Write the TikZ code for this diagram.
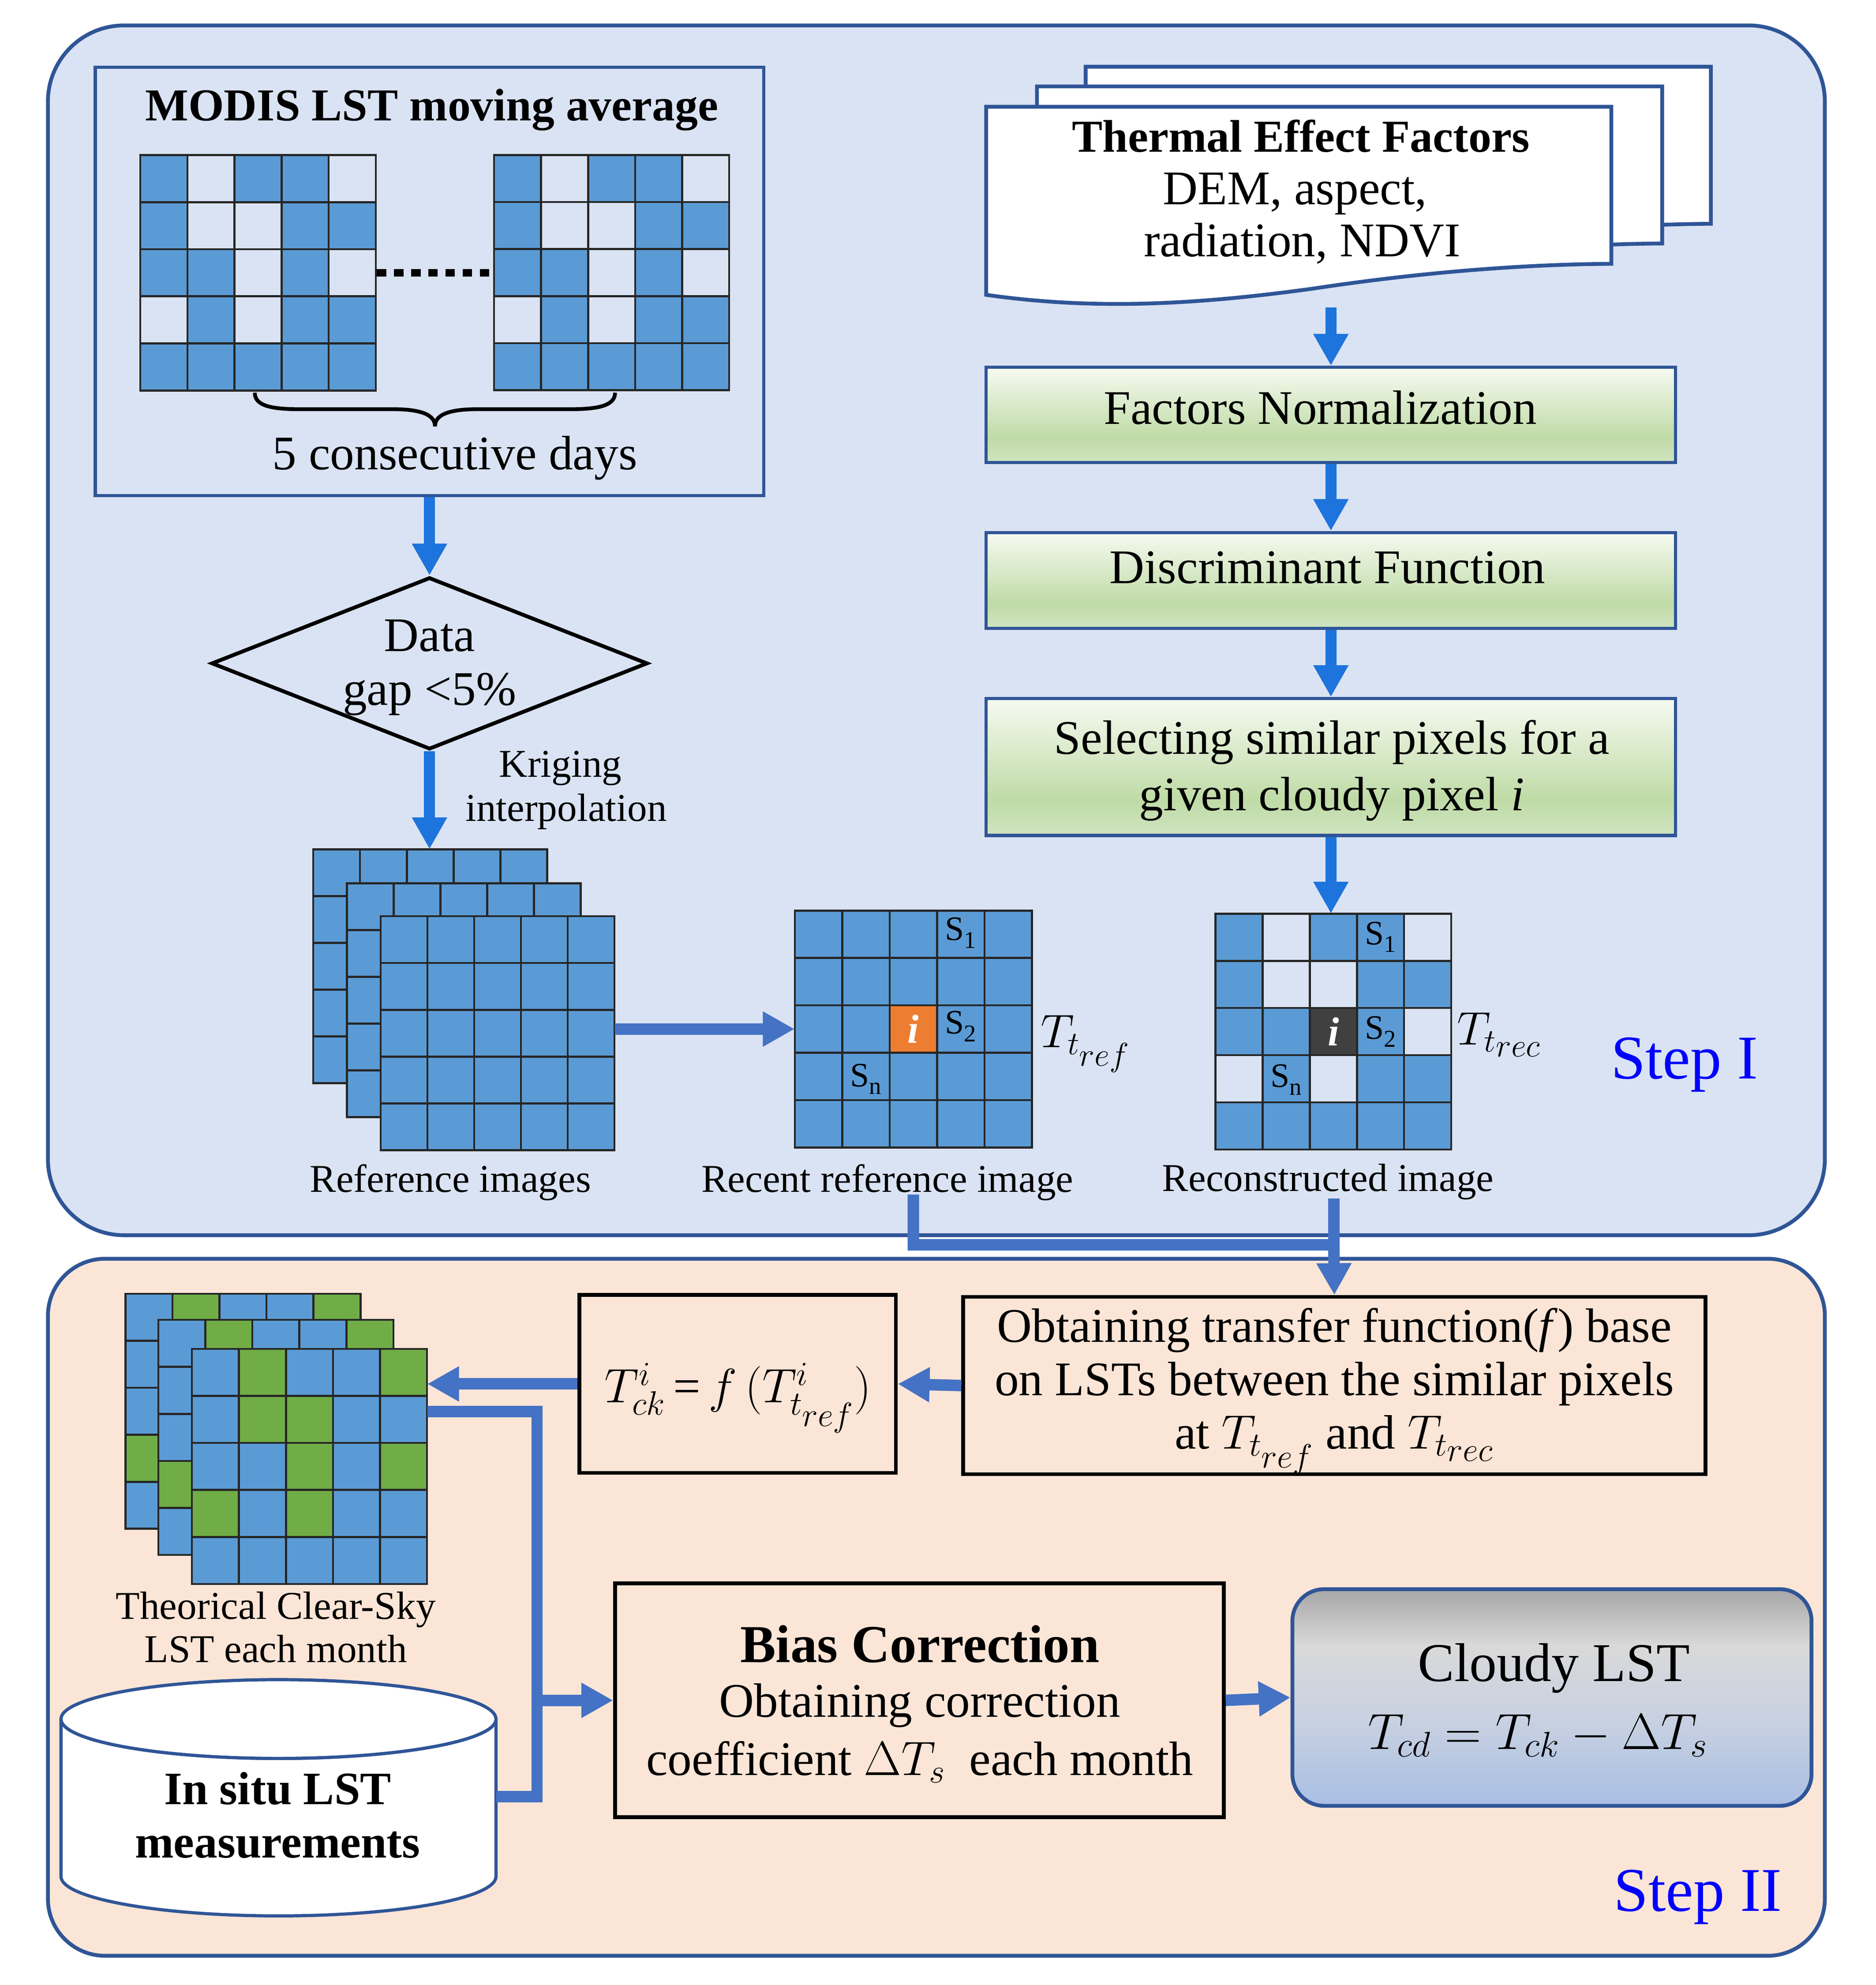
\RequirePackage{fix-cm}
\documentclass[tikz,border=0pt]{standalone}
\usepackage[no-math]{fontspec}
\setmainfont{Liberation Serif}
\usetikzlibrary{arrows.meta,shapes.geometric}

\definecolor{panelA}{HTML}{DAE3F3}
\definecolor{panelB}{HTML}{FBE5D6}
\definecolor{navy}{HTML}{2F5597}
\definecolor{cB}{HTML}{5B9BD5}
\definecolor{cW}{HTML}{DAE3F3}
\definecolor{cG}{HTML}{70AD47}
\definecolor{cO}{HTML}{ED7D31}
\definecolor{cD}{HTML}{404040}
\definecolor{gline}{HTML}{262626}
\definecolor{cbright}{HTML}{1C74DC}
\definecolor{cconn}{HTML}{4472C4}
\definecolor{gA}{HTML}{F6FAF1}
\definecolor{gB}{HTML}{BFDBA6}
\definecolor{gC}{HTML}{D0E4C1}
\definecolor{kA}{HTML}{A6A6A6}
\definecolor{kB}{HTML}{D9D9D9}
\definecolor{kC}{HTML}{C8D1E1}
\definecolor{kD}{HTML}{A9BFE4}

\pgfdeclareverticalshading{greenshade}{100bp}{color(0bp)=(gC); color(25bp)=(gC); color(38bp)=(gB); color(75bp)=(gA); color(100bp)=(gA)}
\pgfdeclareverticalshading{cloudshade}{100bp}{color(0bp)=(kD); color(25bp)=(kD); color(45bp)=(kC); color(62bp)=(kB); color(75bp)=(kA); color(100bp)=(kA)}

\newcommand{\fmain}{\fontsize{38}{46}\selectfont}
\newcommand{\fbold}{\fontsize{36}{44}\selectfont\bfseries}
\newcommand{\flabel}{\fontsize{31}{37}\selectfont}
\newcommand{\fSlab}{\fontsize{27}{32}\selectfont}
\newcommand{\fstep}{\fontsize{49}{58}\selectfont}
\newcommand{\Ssub}[1]{S\raisebox{-6pt}{\fontsize{19}{19}\selectfont #1}}

\newcommand{\cellgrid}[4]{%
  \foreach \rowcols [count=\gi from 0] in {#4} {%
    \foreach \cellcol [count=\gj from 0] in \rowcols {%
      \fill[\cellcol] ({#1+\gj*#3},{#2+\gi*#3}) rectangle ++(#3,#3);
    }
  }
  \foreach \gk in {0,...,5} {%
    \draw[gridline] ({#1+\gk*#3},#2) -- ++(0,{5*#3});
    \draw[gridline] (#1,{#2+\gk*#3}) -- ++({5*#3},0);
  }
}

\tikzset{
  gridline/.style={draw=gline, line width=1.6, line cap=rect},
  navybox/.style={draw=navy, line width=2.5, inner sep=0},
  blackbox/.style={draw=black, line width=3, inner sep=0},
  greenbox/.style={draw=navy, line width=2.5, inner sep=0, shade, shading=greenshade},
  txt/.style={inner sep=0, anchor=base},
  brightarrow/.style={draw=cbright, line width=8.6, -{Triangle[length=25pt,width=26pt]}},
  connline/.style={draw=cconn, line width=9, line join=miter},
  connarrow/.style={connline, -{Triangle[length=25pt,width=26pt]}},
  gridnode/.style={inner sep=0, draw=none, minimum width=#1, minimum height=#1},
  docstyle/.style={draw=navy, fill=white, line width=3, line join=miter},
}

\begin{document}
\begin{tikzpicture}[x=1pt, y=-1pt]
\useasboundingbox (0,0) rectangle (1476,1562);
\fill[white] (0,0) rectangle (1476,1562);

% ---------- panels ----------
\node[draw=navy, fill=panelA, line width=3, rounded corners=60, minimum width=1398.3, minimum height=952, inner sep=0] (stepone) at (736.85,496) {};
\node[draw=navy, fill=panelB, line width=3, rounded corners=45, minimum width=1398.3, minimum height=548.5, inner sep=0] (steptwo) at (736.85,1264.75) {};

% ---------- MODIS box ----------
\node[navybox, minimum width=526, minimum height=337] (modis) at (338,221.5) {};
\node[txt, font=\fbold] (modistitle) at (339.8,95) {MODIS LST moving average};
\cellgrid{110.4}{122}{37.06}{{cB,cW,cB,cB,cW},{cB,cW,cW,cB,cB},{cB,cB,cW,cB,cW},{cW,cB,cW,cB,cB},{cB,cB,cB,cB,cB}}
\cellgrid{388.8}{122}{37.0}{{cB,cW,cB,cB,cW},{cB,cW,cW,cB,cB},{cB,cB,cW,cB,cW},{cW,cB,cW,cB,cB},{cB,cB,cB,cB,cB}}
\draw[line width=6, dash pattern=on 7.5pt off 6pt] (296.5,214.7) -- (388.8,214.7);
\draw[line width=3] (200.5,309) .. controls (200.5,318) and (210,322) .. (235,322) -- (309,322) .. controls (333,322) and (342.3,327) .. (342.3,335.5) .. controls (342.3,327) and (351.6,322) .. (375.6,322) -- (449.5,322) .. controls (474,322) and (484,318) .. (484,309);
\node[txt, font=\fmain] (days) at (358,369.4) {5 consecutive days};

% ---------- diamond ----------
\node[draw=black, line width=3, diamond, minimum width=343.3, minimum height=135.4, inner sep=0] (dgap) at (338,522) {};
\node[txt, font=\fmain] (dtxta) at (338,512.6) {Data};
\node[txt, font=\fmain] (dtxtb) at (338,555) {gap <5\%};
\node[txt, font=\flabel] (kriga) at (441,611.3) {Kriging};
\node[txt, font=\flabel] (krigb) at (445.5,646) {interpolation};

% ---------- reference images ----------
\cellgrid{246.5}{668.4}{36.8}{{cB,cB,cB,cB,cB},{cB,cB,cB,cB,cB},{cB,cB,cB,cB,cB},{cB,cB,cB,cB,cB},{cB,cB,cB,cB,cB}}
\cellgrid{273}{695}{36.8}{{cB,cB,cB,cB,cB},{cB,cB,cB,cB,cB},{cB,cB,cB,cB,cB},{cB,cB,cB,cB,cB},{cB,cB,cB,cB,cB}}
\cellgrid{299.5}{721}{36.8}{{cB,cB,cB,cB,cB},{cB,cB,cB,cB,cB},{cB,cB,cB,cB,cB},{cB,cB,cB,cB,cB},{cB,cB,cB,cB,cB}}
\node[gridnode=184] (refB) at (338.5,760.4) {};
\node[gridnode=184] (refF) at (391.5,813) {};
\node[txt, font=\flabel] (lblref) at (354.5,938) {Reference images};

% ---------- recent reference image ----------
\cellgrid{625.5}{716.5}{37.3}{{cB,cB,cB,cB,cB},{cB,cB,cB,cB,cB},{cB,cB,cO,cB,cB},{cB,cB,cB,cB,cB},{cB,cB,cB,cB,cB}}
\node[gridnode=186.5] (recent) at (718.75,809.75) {};
\node[inner sep=0, text=white, font=\fontsize{32}{32}\selectfont\bfseries\itshape] (ione) at (718.75,809.75) {i};
\node[txt, anchor=base west, font=\fSlab] (rsa) at (743.4,740) {\Ssub{1}};
\node[txt, anchor=base west, font=\fSlab] (rsb) at (743.4,813.6) {\Ssub{2}};
\node[txt, anchor=base west, font=\fSlab] (rsn) at (668.8,855) {\Ssub{n}};
\node[txt, anchor=base west, font=\fontsize{37}{44}\selectfont] (tref) at (818.7,824.2) {$T_{t_{\scriptstyle ref}}$};
\node[txt, font=\flabel] (lblrecent) at (698.3,938) {Recent reference image};

% ---------- reconstructed image ----------
\cellgrid{956.5}{719}{37.1}{{cB,cW,cB,cB,cW},{cB,cW,cW,cB,cB},{cB,cB,cD,cB,cW},{cW,cB,cW,cB,cB},{cB,cB,cB,cB,cB}}
\node[gridnode=185.5] (recon) at (1049.25,811.75) {};
\node[inner sep=0, text=white, font=\fontsize{32}{32}\selectfont\bfseries\itshape] (itwo) at (1049.25,811.75) {i};
\node[txt, anchor=base west, font=\fSlab] (csa) at (1073.8,743.4) {\Ssub{1}};
\node[txt, anchor=base west, font=\fSlab] (csb) at (1073.8,817.7) {\Ssub{2}};
\node[txt, anchor=base west, font=\fSlab] (csn) at (999.6,855.6) {\Ssub{n}};
\node[txt, anchor=base west, font=\fontsize{37}{44}\selectfont] (trec) at (1146.5,822) {$T_{t_{\scriptstyle rec}}$};
\node[txt, font=\flabel] (lblrecon) at (1045,937.5) {Reconstructed image};
\node[txt, font=\fstep, text=blue] (steponelbl) at (1325.5,848.7) {Step I};

% ---------- thermal effect factors ----------
\foreach \dx/\dy in {78.3/-31.5, 40/-16, 0/0}
  \draw[docstyle, shift={(\dx,\dy)}] (776,84) -- (1268,84) -- (1268,207.6) .. controls (1200,208) and (1120,214) .. (1034,227) .. controls (940,240) and (860,244) .. (776,232) -- cycle;
\node[txt, font=\fbold] (tefa) at (1023.6,119.5) {Thermal Effect Factors};
\node[txt, font=\fmain] (tefb) at (1019,161) {DEM, aspect,};
\node[txt, font=\fmain] (tefc) at (1024.7,202) {radiation, NDVI};
\coordinate (docbot) at (1047.3,242);

% ---------- green boxes ----------
\node[greenbox, minimum width=542.6, minimum height=75] (fnorm) at (1047.3,326.5) {};
\node[txt, font=\fmain] (fnormt) at (1039,333.6) {Factors Normalization};
\node[greenbox, minimum width=542.6, minimum height=75.4] (discr) at (1047.3,456.7) {};
\node[txt, font=\fmain] (discrt) at (1044.6,459) {Discriminant Function};
\node[greenbox, minimum width=542.6, minimum height=107.7] (select) at (1047.3,603.55) {};
\node[txt, font=\fmain] (selta) at (1048,593.5) {Selecting similar pixels for a};
\node[txt, font=\fmain] (seltb) at (1048,637.9) {given cloudy pixel \textit{i}};

% ---------- step I arrows ----------
\draw[brightarrow] (modis.south) -- (dgap.north);
\draw[brightarrow] (dgap.south) -- (dgap.south |- refB.north);
\draw[brightarrow] (docbot) -- (fnorm.north);
\draw[brightarrow] (fnorm.south) -- (discr.north);
\draw[brightarrow] (discr.south) -- (select.north);
\draw[brightarrow] (select.south) -- (select.south |- recon.north);
\draw[connarrow] (recent.west -| refF.east) -- (recent.west);

% ---------- step II ----------
\cellgrid{98.7}{1018}{37}{{cB,cG,cB,cB,cG},{cB,cG,cG,cB,cB},{cB,cB,cG,cB,cG},{cG,cB,cG,cB,cB},{cB,cB,cB,cB,cB}}
\cellgrid{124.6}{1038.6}{37}{{cB,cG,cB,cB,cG},{cB,cG,cG,cB,cB},{cB,cB,cG,cB,cG},{cG,cB,cG,cB,cB},{cB,cB,cB,cB,cB}}
\cellgrid{151}{1061.4}{37}{{cB,cG,cB,cB,cG},{cB,cG,cG,cB,cB},{cB,cB,cG,cB,cG},{cG,cB,cG,cB,cB},{cB,cB,cB,cB,cB}}
\node[gridnode=185] (tcs) at (243.5,1153.9) {};
\node[txt, font=\flabel] (tcsa) at (217,1274) {Theorical Clear-Sky};
\node[txt, font=\flabel] (tcsb) at (217,1308) {LST each month};

% cylinder
\path[draw=navy, fill=white, line width=2.5] (48,1352.7) -- (48,1476.6) arc[start angle=180, end angle=0, x radius=171.15, y radius=31] -- (390.3,1352.7) arc[start angle=0, end angle=180, x radius=171.15, y radius=31] -- cycle;
\draw[draw=navy, fill=white, line width=2.5] (219.15,1352.7) ellipse [x radius=171.15, y radius=31];
\node[inner sep=0, minimum width=342.3, minimum height=60] (cyl) at (219.15,1413.8) {};
\node[txt, font=\fontsize{36.5}{44}\selectfont\bfseries] (situa) at (218.5,1420) {In situ LST};
\node[txt, font=\fontsize{36.5}{44}\selectfont\bfseries] (situb) at (218.5,1461.7) {measurements};

% f box
\node[blackbox, minimum width=249, minimum height=140] (fbox) at (580.5,1089) {};
\node[txt, font=\fontsize{38}{44}\selectfont] (fform) at (580.7,1103.8) {$T^{i}_{ck}$\,=\,$f\,(T^{i}_{t_{\scriptstyle ref}})$};

% transfer box
\node[blackbox, minimum width=584, minimum height=139.5] (tbox) at (1050,1090.25) {};
\node[txt, font=\fmain] (tba) at (1050,1056) {Obtaining transfer function(\textit{f}) base};
\node[txt, font=\fmain] (tbb) at (1050,1098) {on LSTs between the similar pixels};
\node[txt, font=\fmain] (tbc) at (1050,1140) {at $T_{t_{\scriptstyle ref}}$ and $T_{t_{\scriptstyle rec}}$};

% bias box
\node[blackbox, minimum width=479, minimum height=184] (bias) at (723.5,1338) {};
\node[txt, font=\fontsize{42}{50}\selectfont\bfseries] (biasa) at (723.8,1308) {Bias Correction};
\node[txt, font=\fmain] (biasb) at (723.8,1351) {Obtaining correction};
\node[txt, font=\fmain] (biasc) at (723.8,1397) {coefficient $\Delta T_s$\ \ each month};

% cloudy LST
\node[draw=navy, line width=3, rounded corners=25, shade, shading=cloudshade, minimum width=408.5, minimum height=170.5, inner sep=0] (cloudy) at (1221.25,1335.75) {};
\node[txt, font=\fontsize{43}{50}\selectfont] (cla) at (1222.8,1323) {Cloudy LST};
\node[txt, font=\fontsize{40}{47}\selectfont] (clb) at (1210,1376.5) {$T_{cd} = T_{ck} - \Delta T_s$};

\node[txt, font=\fstep, text=blue] (steptwolbl) at (1336,1504) {Step II};

% ---------- connectors between steps and in step II ----------
\coordinate (recentbot) at (718.7,940);
\coordinate (reconbot) at (1049.6,943);
\coordinate (junca) at (1049.6,979.5);
\draw[connline] (reconbot) -- (junca);
\draw[connarrow] (recentbot) |- (junca) -- (tbox.north);
\draw[connarrow] (tbox.west) -- (fbox.east);
\draw[connarrow] (fbox.west) -- (fbox.west -| tcs.east);
\coordinate (jtop) at (422.6,1110.7);
\coordinate (jmid) at (422.6,1338);
\coordinate (jbot) at (422.6,1413.8);
\draw[connline] (jtop -| tcs.east) -- (jtop) -- (jbot) -- (cyl.east);
\draw[connarrow] (jmid) -- (bias.west);
\draw[connarrow] (bias.east) -- (cloudy.west);

\end{tikzpicture}
\end{document}
